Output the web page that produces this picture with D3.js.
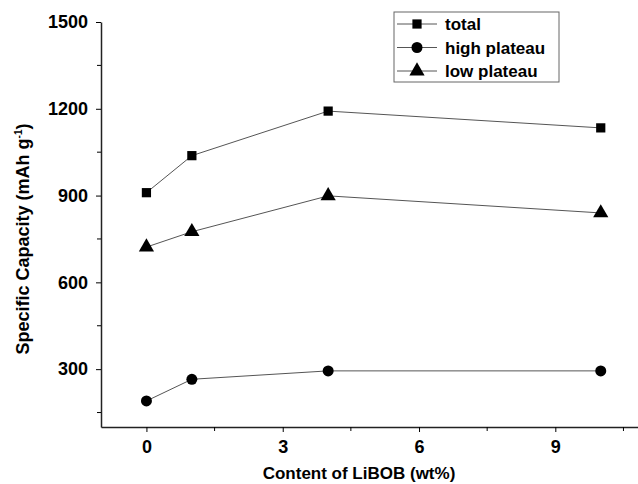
<!DOCTYPE html>
<html>
<head>
<meta charset="utf-8">
<script src="https://cdn.jsdelivr.net/npm/d3@7"></script>
<style>
  body { margin: 0; background: #fff; }
  svg { display: block; font-family: "Liberation Sans", Arial, sans-serif; }
  .tick text { font-weight: bold; font-size: 18px; fill: #000; }
</style>
</head>
<body>
<svg id="chart" width="638" height="484"></svg>
<script>
// data
var libob = [0, 1, 4, 10];
var total = [910, 1038, 1192, 1134];
var highPlateau = [190, 265, 294, 294];
var lowPlateau = [722, 775, 899, 840];
var seriesNames = ['total', 'high plateau', 'low plateau'];
var xTicks = [0, 3, 6, 9];
var yTicks = [300, 600, 900, 1200, 1500];
var xMinor = [1.5, 4.5, 7.5, 10.5];
var yMinor = [150, 450, 750, 1050, 1350];

var svg = d3.select('#chart');

// plot region
var plotLeft = 101, plotRight = 638, plotTop = 22, plotBottom = 427;

var x = d3.scaleLinear().domain([-1, 10.82]).range([plotLeft, plotRight]);
var y = d3.scaleLinear().domain([100, 1500]).range([plotBottom, plotTop]);

// axes: major ticks + minor ticks
var xAxis = d3.axisBottom(x).tickValues(xTicks).tickFormat(d3.format('d'))
    .tickSize(5).tickPadding(8).tickSizeOuter(0);
var yAxis = d3.axisLeft(y).tickValues(yTicks).tickFormat(d3.format('d'))
    .tickSize(5).tickPadding(8).tickSizeOuter(0);

var gx = svg.append('g').attr('transform', 'translate(0,' + plotBottom + ')').call(xAxis);
gx.append('g').selectAll('line')
    .data(xMinor)
    .enter().append('line')
    .attr('x1', function(d){ return x(d); })
    .attr('x2', function(d){ return x(d); })
    .attr('y1', 0).attr('y2', 4)
    .attr('stroke', '#000');

var gy = svg.append('g').attr('transform', 'translate(' + plotLeft + ',0)').call(yAxis);
gy.append('g').selectAll('line')
    .data(yMinor)
    .enter().append('line')
    .attr('y1', function(d){ return y(d); })
    .attr('y2', function(d){ return y(d); })
    .attr('x1', 0).attr('x2', -4)
    .attr('stroke', '#000');

svg.selectAll('.domain').attr('stroke', '#222').attr('stroke-width', 1.5);
svg.selectAll('.tick line').attr('stroke', '#000');

// axis titles
svg.append('text')
    .attr('x', 359).attr('y', 479)
    .attr('text-anchor', 'middle')
    .style('font-weight', 'bold').style('font-size', '17px')
    .text('Content of LiBOB (wt%)');

var yl = svg.append('text')
    .attr('transform', 'translate(29,239) rotate(-90)')
    .attr('text-anchor', 'middle')
    .style('font-weight', 'bold').style('font-size', '18px');
yl.append('tspan').text('Specific Capacity (mAh g');
yl.append('tspan').attr('dy', -7).style('font-size', '10px').text('-1');
yl.append('tspan').attr('dy', 7).text(')');

// series
var symbols = [d3.symbolSquare, d3.symbolCircle, d3.symbolTriangle];
var symbolSizes = [85, 95, 100];
var allSeries = [total, highPlateau, lowPlateau];

var line = d3.line()
    .x(function(d, i){ return x(libob[i]); })
    .y(function(d){ return y(d); });

allSeries.forEach(function(vals, s){
    svg.append('path')
        .datum(vals)
        .attr('d', line)
        .attr('fill', 'none')
        .attr('stroke', '#555')
        .attr('stroke-width', 1);

    svg.append('g').selectAll('path')
        .data(vals)
        .enter().append('path')
        .attr('transform', function(d, i){ return 'translate(' + x(libob[i]) + ',' + y(d) + ')'; })
        .attr('d', d3.symbol().type(symbols[s]).size(symbolSizes[s]))
        .attr('fill', '#000');
});

// legend
var legend = svg.append('g').attr('transform', 'translate(394,12)');
legend.append('rect')
    .attr('width', 165).attr('height', 70)
    .attr('fill', '#fff').attr('stroke', '#666').attr('stroke-width', 1);

var entry = legend.selectAll('g.entry')
    .data(seriesNames)
    .enter().append('g')
    .attr('class', 'entry')
    .attr('transform', function(d, i){ return 'translate(0,' + (12 + i * 23.5) + ')'; });

entry.append('line')
    .attr('x1', 3).attr('x2', 43)
    .attr('stroke', '#555').attr('stroke-width', 1);
entry.append('path')
    .attr('transform', 'translate(23,0)')
    .attr('d', function(d, i){ return d3.symbol().type(symbols[i]).size(symbolSizes[i])(); })
    .attr('fill', '#000');
entry.append('text')
    .attr('x', 51).attr('y', 6)
    .style('font-weight', 'bold').style('font-size', '17px')
    .text(function(d){ return d; });
</script>
</body>
</html>
